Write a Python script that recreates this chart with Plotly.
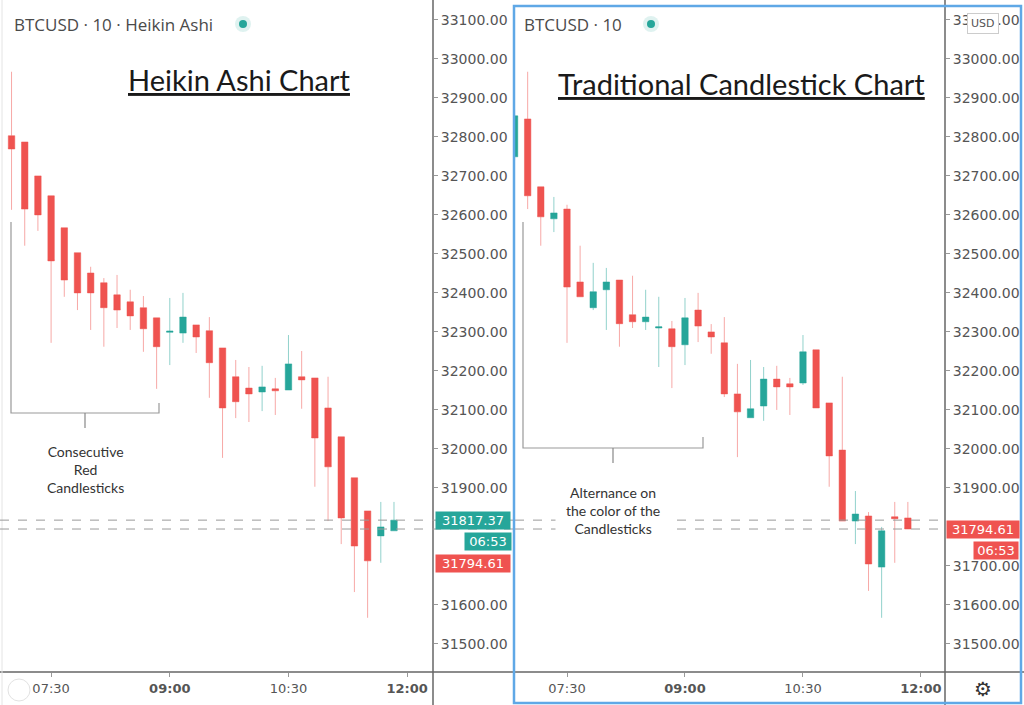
import plotly.graph_objects as go

# 10-minute bars, BTCUSD
times = ["2021-06-22 06:50", "2021-06-22 07:00", "2021-06-22 07:10", "2021-06-22 07:20",
         "2021-06-22 07:30", "2021-06-22 07:40", "2021-06-22 07:50", "2021-06-22 08:00",
         "2021-06-22 08:10", "2021-06-22 08:20", "2021-06-22 08:30", "2021-06-22 08:40",
         "2021-06-22 08:50", "2021-06-22 09:00", "2021-06-22 09:10", "2021-06-22 09:20",
         "2021-06-22 09:30", "2021-06-22 09:40", "2021-06-22 09:50", "2021-06-22 10:00",
         "2021-06-22 10:10", "2021-06-22 10:20", "2021-06-22 10:30", "2021-06-22 10:40",
         "2021-06-22 10:50", "2021-06-22 11:00", "2021-06-22 11:10", "2021-06-22 11:20",
         "2021-06-22 11:30", "2021-06-22 11:40", "2021-06-22 11:50"]

# heikin ashi bars (start at 07:00)
ha_times = times[1:]
ha_open = [32803, 32787, 32700, 32649, 32567, 32503, 32451, 32426, 32395, 32377,
           32362, 32336, 32299, 32297, 32318, 32303, 32259, 32185, 32156, 32146,
           32154, 32151, 32185, 32182, 32105, 32031, 31926, 31841, 31777, 31790]
ha_high = [32967, 32787, 32700, 32649, 32567, 32503, 32467, 32438, 32446, 32408,
           32392, 32336, 32387, 32400, 32318, 32338, 32259, 32228, 32210, 32213,
           32182, 32292, 32251, 32182, 32185, 32031, 31926, 31841, 31864, 31864]
ha_low = [32613, 32521, 32559, 32272, 32390, 32356, 32305, 32262, 32310, 32305,
          32249, 32154, 32215, 32272, 32246, 32131, 31977, 32079, 32069, 32097,
          32087, 32151, 32103, 31903, 31815, 31756, 31633, 31567, 31708, 31790]
ha_close = [32769, 32615, 32600, 32482, 32433, 32400, 32400, 32362, 32356, 32341,
            32308, 32262, 32302, 32338, 32287, 32221, 32105, 32121, 32141, 32159,
            32149, 32218, 32177, 32028, 31954, 31823, 31751, 31713, 31800, 31817.37]

# regular candles
c_open = [32749, 32846, 32672, 32590, 32615, 32428, 32362, 32408, 32433, 32344, 32326,
          32310, 32308, 32267, 32356, 32300, 32272, 32141, 32080, 32110, 32179, 32167,
          32169, 32254, 32118, 31997, 31815, 31828, 31697, 31826, 31823]
c_high = [32870, 32967, 32672, 32646, 32626, 32521, 32477, 32464, 32433, 32444, 32408,
          32390, 32328, 32387, 32400, 32320, 32338, 32218, 32228, 32210, 32213, 32182,
          32292, 32254, 32118, 32185, 31892, 31838, 31800, 31864, 31864]
c_low = [32740, 32615, 32521, 32556, 32272, 32390, 32356, 32305, 32262, 32310, 32305,
         32210, 32156, 32215, 32274, 32244, 32133, 31979, 32080, 32072, 32100, 32087,
         32164, 32105, 31903, 31815, 31756, 31636, 31567, 31708, 31795]
c_close = [32854, 32649, 32595, 32605, 32415, 32390, 32403, 32428, 32321, 32326, 32338,
           32313, 32262, 32336, 32315, 32287, 32141, 32095, 32103, 32179, 32159, 32159,
           32249, 32105, 31982, 31815, 31833, 31705, 31790, 31821, 31794.61]

last_ha = 31817.37
last_close = 31794.61
countdown = "06:53"

# price scale labels (the ones hidden behind the price tags are left out)
y_ticks_ha = [33100, 33000, 32900, 32800, 32700, 32600, 32500, 32400, 32300, 32200,
              32100, 32000, 31900, 31600, 31500]
y_ticks = [33100, 33000, 32900, 32800, 32700, 32600, 32500, 32400, 32300, 32200,
           32100, 32000, 31900, 31700, 31600, 31500]

x_tickvals = ["2021-06-22 07:30", "2021-06-22 09:00", "2021-06-22 10:30", "2021-06-22 12:00"]
x_ticktext = ["07:30", "<b>09:00</b>", "10:30", "<b>12:00</b>"]

UP = "#26a69a"
DOWN = "#ef5350"
W, H = 1024, 705


def px(x):
    return x / W


def py(y):
    return 1 - y / H


def path(points):
    return " ".join(("M" if i == 0 else "L") + " %f,%f" % (px(a), py(b)) for i, (a, b) in enumerate(points))


fig = go.Figure()
fig.add_trace(go.Candlestick(
    x=ha_times, open=ha_open, high=ha_high, low=ha_low, close=ha_close,
    increasing=dict(line=dict(color="rgba(38,166,154,0.5)", width=1), fillcolor=UP),
    decreasing=dict(line=dict(color="rgba(239,83,80,0.5)", width=1), fillcolor=DOWN),
    xaxis="x", yaxis="y", hoverinfo="skip", showlegend=False))
fig.add_trace(go.Candlestick(
    x=times, open=c_open, high=c_high, low=c_low, close=c_close,
    increasing=dict(line=dict(color="rgba(38,166,154,0.5)", width=1), fillcolor=UP),
    decreasing=dict(line=dict(color="rgba(239,83,80,0.5)", width=1), fillcolor=DOWN),
    xaxis="x2", yaxis="y2", hoverinfo="skip", showlegend=False))

xcommon = dict(type="date", rangeslider=dict(visible=False), showgrid=False, zeroline=False,
               tickvals=x_tickvals, ticktext=x_ticktext, ticks="outside", ticklen=4,
               tickcolor="#999", tickfont=dict(family="DejaVu Sans", size=13, color="#555"),
               showline=False, automargin=False)
ycommon = dict(range=[31428, 33151], tickformat=".2f", side="right",
               showgrid=False, zeroline=False, ticks="outside", ticklen=4, tickcolor="#999",
               tickfont=dict(family="DejaVu Sans", size=14, color="#555"),
               domain=[33 / H, 1], showline=False, automargin=False)

fig.update_layout(
    width=W, height=H, margin=dict(l=0, r=0, t=0, b=0),
    paper_bgcolor="white", plot_bgcolor="white",
    xaxis=dict(domain=[0, px(433)], range=["2021-06-22 06:51:15", "2021-06-22 12:19:35"], anchor="y", **xcommon),
    xaxis2=dict(domain=[px(515), px(945)], range=["2021-06-22 06:50:20", "2021-06-22 12:18:20"], anchor="y2", **xcommon),
    yaxis=dict(anchor="x", tickvals=y_ticks_ha, **ycommon),
    yaxis2=dict(anchor="x2", tickvals=y_ticks, **ycommon),
)

shapes = []
# axis lines
shapes.append(dict(type="line", xref="paper", yref="paper", x0=0, x1=1, y0=py(672), y1=py(672),
                   line=dict(color="#666", width=1.5)))
for xv in (433, 945):
    shapes.append(dict(type="line", xref="paper", yref="paper", x0=px(xv), x1=px(xv), y0=0, y1=1,
                       line=dict(color="#666", width=1.5)))
shapes.append(dict(type="line", xref="paper", yref="paper", x0=px(2), x1=px(2), y0=0, y1=1,
                   line=dict(color="#e4e4e4", width=1)))
# last price lines
for yref, x0, x1 in (("y", 0, 515), ("y2", 515, 945)):
    for val in (last_ha, last_close):
        shapes.append(dict(type="line", xref="paper", yref=yref, x0=px(x0), x1=px(x1), y0=val, y1=val,
                           line=dict(color="#9a9a9a", width=1, dash="dash"), layer="above"))
# brackets
shapes.append(dict(type="path", xref="paper", yref="paper",
                   path=path([(11, 222), (11, 413), (159, 413), (159, 403)]), line=dict(color="#999", width=1.2)))
shapes.append(dict(type="path", xref="paper", yref="paper",
                   path=path([(85, 413), (85, 428)]), line=dict(color="#888", width=1.2)))
shapes.append(dict(type="path", xref="paper", yref="paper",
                   path=path([(523, 222), (523, 448), (703, 448), (703, 437)]), line=dict(color="#999", width=1.2)))
shapes.append(dict(type="path", xref="paper", yref="paper",
                   path=path([(613, 448), (613, 463)]), line=dict(color="#888", width=1.2)))
# right panel frame
shapes.append(dict(type="rect", xref="paper", yref="paper", x0=px(514), x1=px(1021), y0=py(703), y1=py(6),
                   line=dict(color="#5fa8e6", width=2.5)))
# magnifier icon
shapes.append(dict(type="circle", xref="paper", yref="paper", x0=px(8), x1=px(30), y0=py(701), y1=py(679),
                   line=dict(color="#e2e2e2", width=1)))
# market-open status dots
for xv in (243, 651):
    shapes.append(dict(type="circle", xref="paper", yref="paper", x0=px(xv - 8), x1=px(xv + 8),
                       y0=py(32), y1=py(16), line=dict(width=0), fillcolor="rgba(38,166,154,0.15)"))
    shapes.append(dict(type="circle", xref="paper", yref="paper", x0=px(xv - 4), x1=px(xv + 4),
                       y0=py(28), y1=py(20), line=dict(width=0), fillcolor=UP))
fig.update_layout(shapes=shapes)

ann = []


def note(x, y, text, font, **kw):
    d = dict(xref="paper", yref="paper", x=px(x), y=py(y), text=text, showarrow=False,
             xanchor="center", yanchor="middle", font=font)
    d.update(kw)
    ann.append(d)


hdr = dict(family="Open Sans", size=17, color="#4a4a4a")
note(12, 24, "BTCUSD · 10 · Heikin Ashi", hdr, xanchor="left")
note(522, 24, "BTCUSD · 10", hdr, xanchor="left")

title_font = dict(family="Lato", size=29, color="#1a1a1a")
note(239, 80, "<u>Heikin Ashi Chart</u>", title_font)
note(741, 83, "<u>Traditional Candlestick Chart</u>", title_font)

note_font = dict(family="Lato", size=14, color="#333")
note(85, 469, "Consecutive<br>Red<br>Candlesticks", note_font)
note(613, 510, "Alternance on<br>the color of the<br>Candlesticks", note_font, bgcolor="white", borderpad=10)

# price tags on the price scales
lab_font = dict(family="DejaVu Sans", size=13, color="white")
ann.append(dict(xref="paper", yref="y", x=px(435), y=last_ha, text=str(last_ha), xanchor="left",
                yanchor="middle", showarrow=False, bgcolor=UP, font=lab_font, width=72, borderpad=1))
ann.append(dict(xref="paper", yref="y", x=px(512), y=last_ha, yshift=-21, text=countdown, xanchor="right",
                yanchor="middle", showarrow=False, bgcolor=UP, font=lab_font, width=44, borderpad=1))
ann.append(dict(xref="paper", yref="y", x=px(435), y=last_close, yshift=-34, text=str(last_close),
                xanchor="left", yanchor="middle", showarrow=False, bgcolor=DOWN, font=lab_font,
                width=72, borderpad=1))
ann.append(dict(xref="paper", yref="y2", x=px(946), y=last_close, text=str(last_close), xanchor="left",
                yanchor="middle", showarrow=False, bgcolor=DOWN, font=lab_font, width=70, borderpad=1))
ann.append(dict(xref="paper", yref="y2", x=px(1019), y=last_close, yshift=-21, text=countdown,
                xanchor="right", yanchor="middle", showarrow=False, bgcolor=DOWN, font=lab_font,
                width=42, borderpad=1))

# currency badge sits over the top price label, as in the terminal
note(983, 23, "USD", dict(family="DejaVu Sans", size=11, color="#555"), bgcolor="white",
     bordercolor="#ccc", borderwidth=1, borderpad=3)
note(983, 689, "⚙", dict(family="DejaVu Sans", size=20, color="#333"))
fig.update_layout(annotations=ann)

fig.write_html("out.html", config={"displayModeBar": False},
               post_script="document.body.style.margin='0';document.body.style.overflow='hidden';")
